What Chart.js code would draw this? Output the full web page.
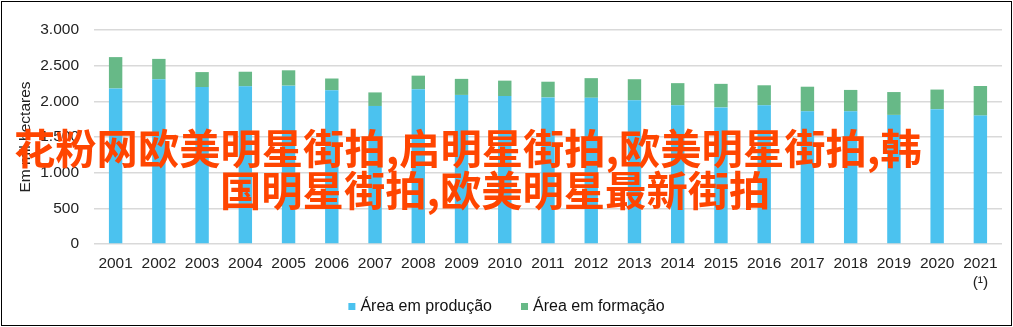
<!DOCTYPE html>
<html>
<head>
<meta charset="utf-8">
<script src="https://cdn.jsdelivr.net/npm/chart.js@4.4.1/dist/chart.umd.min.js"></script>
<style>
  html, body { margin: 0; padding: 0; background: #fff; }
  #wrap { position: relative; width: 1013px; height: 327px; overflow: hidden; }
  #c { position: absolute; left: 0; top: 0; }
  #frame { position: absolute; left: 1px; top: 1px; width: 1011px; height: 325px; box-sizing: border-box; border: 1px solid #000; pointer-events: none; }
  .ov { position: absolute; white-space: nowrap; color: #ff4500; font-family: "Noto Sans CJK SC", sans-serif; font-weight: 700; font-size: 41.3px; line-height: 42px; }
</style>
</head>
<body>
<div id="wrap">
  <canvas id="c" width="1013" height="327"></canvas>
  <div id="frame"></div>
  <div class="ov" style="left:14px; top:125px;">花粉网欧美明星街拍,启明星街拍,欧美明星街拍,韩</div>
  <div class="ov" style="left:220px; top:167px;">国明星街拍,欧美明星最新街拍</div>
</div>
<script>
const years = ['2001','2002','2003','2004','2005','2006','2007','2008','2009','2010','2011','2012','2013','2014','2015','2016','2017','2018','2019','2020',['2021','(¹)']];
const areaProducao = [2180, 2310, 2200, 2210, 2220, 2155, 1935, 2170, 2090, 2075, 2055, 2050, 2015, 1945, 1915, 1945, 1860, 1860, 1810, 1890, 1800];
const areaFormacao = [440, 285, 210, 205, 215, 165, 190, 190, 225, 215, 220, 275, 295, 310, 330, 280, 345, 300, 320, 275, 415];
const seriesNames = ['Área em produção', 'Área em formação'];
const yTicks = [0, 500, 1000, 1500, 2000, 2500, 3000];
const yTitle = 'Em mil hectares';

function fmt(v) {
  return String(v).replace(/\B(?=(\d{3})+(?!\d))/g, '.');
}

const FONT = '"Liberation Sans", Arial, sans-serif';

const legendPlugin = {
  id: 'customLegend',
  afterDraw(chart) {
    const ctx = chart.ctx;
    const items = chart.data.datasets.map(d => ({ text: d.label, color: d.backgroundColor }));
    ctx.save();
    ctx.font = '16px ' + FONT;
    const box = 7, gap = 5, spacing = 29;
    const widths = items.map(it => box + gap + ctx.measureText(it.text).width);
    const total = widths.reduce((a, b) => a + b, 0) + spacing * (items.length - 1);
    let x = (chart.width - total) / 2;
    const y = chart.height - 20.5;
    ctx.textBaseline = 'middle';
    ctx.textAlign = 'left';
    items.forEach((it, i) => {
      ctx.fillStyle = it.color;
      ctx.fillRect(x, y - box / 2, box, box);
      ctx.fillStyle = '#111';
      ctx.fillText(it.text, x + box + gap, y);
      x += widths[i] + spacing;
    });
    ctx.restore();
  }
};

new Chart(document.getElementById('c'), {
  type: 'bar',
  data: {
    labels: years,
    datasets: [
      { label: seriesNames[0], data: areaProducao, backgroundColor: '#4bc2ef', barPercentage: 0.31, categoryPercentage: 1.0 },
      { label: seriesNames[1], data: areaFormacao, backgroundColor: '#67b987', barPercentage: 0.31, categoryPercentage: 1.0 }
    ]
  },
  options: {
    responsive: false,
    animation: false,
    devicePixelRatio: 1,
    layout: { padding: { left: 0, right: 11, top: 30, bottom: 34.5 } },
    plugins: {
      legend: { display: false },
      tooltip: { enabled: false }
    },
    scales: {
      x: {
        stacked: true,
        grid: { display: false, drawTicks: false },
        border: { display: false },
        afterFit: (axis) => { axis.height = 48.5; },
        ticks: { color: '#222', padding: 10.5, maxRotation: 0, autoSkip: false, font: { family: FONT, size: 15.5, lineHeight: 1.226 } }
      },
      y: {
        stacked: true,
        min: 0,
        max: 3000,
        afterBuildTicks: (axis) => { axis.ticks = yTicks.map(v => ({ value: v })); },
        afterFit: (axis) => { axis.width = 94; },
        grid: { color: '#d9d9d9', lineWidth: 1.6, drawTicks: false },
        border: { display: false },
        ticks: { color: '#222', padding: 15, font: { family: FONT, size: 15.5 }, callback: (v) => fmt(v) },
        title: { display: true, text: yTitle, color: '#222', padding: { top: 16, bottom: 0 }, font: { family: FONT, size: 15.5, lineHeight: 1.2 } }
      }
    }
  },
  plugins: [legendPlugin]
});
</script>
</body>
</html>
